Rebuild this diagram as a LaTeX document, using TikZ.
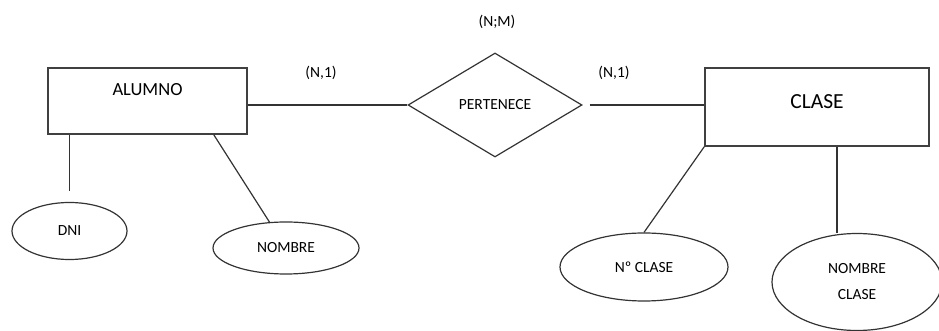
\documentclass[tikz,border=0pt]{standalone}
\usepackage{fontspec}
\setmainfont{Carlito}
\usetikzlibrary{shapes.geometric}
\begin{document}
\begin{tikzpicture}[x=1pt,y=1pt,
  entidad/.style={rectangle,draw=black!75,line width=1.6pt,inner sep=0pt},
  relacion/.style={diamond,draw=black!80,line width=1.2pt,inner sep=0pt,aspect=1.67},
  atributo/.style={ellipse,draw=black!80,line width=1.2pt,inner sep=0pt},
  texto/.style={font=\fontsize{15.5}{18}\selectfont,text=black},
  linea/.style={draw=black!80,line width=1.2pt}]
\useasboundingbox (0,0) rectangle (939,331);
% Entidades
\node[entidad,minimum width=199pt,minimum height=66pt] (alumno) at (147.5,230) {};
\node[texto,font=\fontsize{18.5}{22}\selectfont] (alumnotxt) at ([yshift=-22pt]alumno.north) {ALUMNO};
\node[entidad,minimum width=224pt,minimum height=78pt] (clase) at (817,224) {};
\node[texto,font=\fontsize{21.5}{25}\selectfont] (clasetxt) at ([yshift=-34pt]clase.north) {CLASE};
% Relacion
\node[relacion,texto,minimum width=174pt,minimum height=104pt] (pertenece) at (495,226) {PERTENECE};
% Atributos
\node[atributo,texto,minimum width=115pt,minimum height=57pt] (dni) at (69.5,100) {DNI};
\node[atributo,texto,minimum width=146pt,minimum height=52pt] (nombre) at (286,83) {NOMBRE};
\node[atributo,texto,minimum width=168pt,minimum height=68pt] (numclase) at (644,64) {Nº CLASE};
\node[atributo,texto,font=\fontsize{15.5}{26}\selectfont,align=center,minimum width=170pt,minimum height=97pt] (nomclase) at (857,49) {NOMBRE\\CLASE};
% Cardinalidades
\node[texto] (card1) at (321,258) {(N,1)};
\node[texto] (card2) at (614,258) {(N,1)};
\node[texto] (cardrel) at (497,309) {(N;M)};
% Lineas
\draw[linea] (pertenece.west -| alumno.east) -- (pertenece.west);
\draw[linea,shorten <=7pt] (pertenece.east) -- (pertenece.east -| clase.west);
\draw[linea,shorten >=11pt] (alumno.south -| dni.north) -- (dni.north);
\draw[linea] ([xshift=-34pt]alumno.south east) -- (nombre);
\draw[linea] (clase.south west) -- (numclase.north);
\draw[linea] ([xshift=20pt]clase.south) -- ([xshift=20pt]clase.south |- nomclase.north);
\end{tikzpicture}
\end{document}
